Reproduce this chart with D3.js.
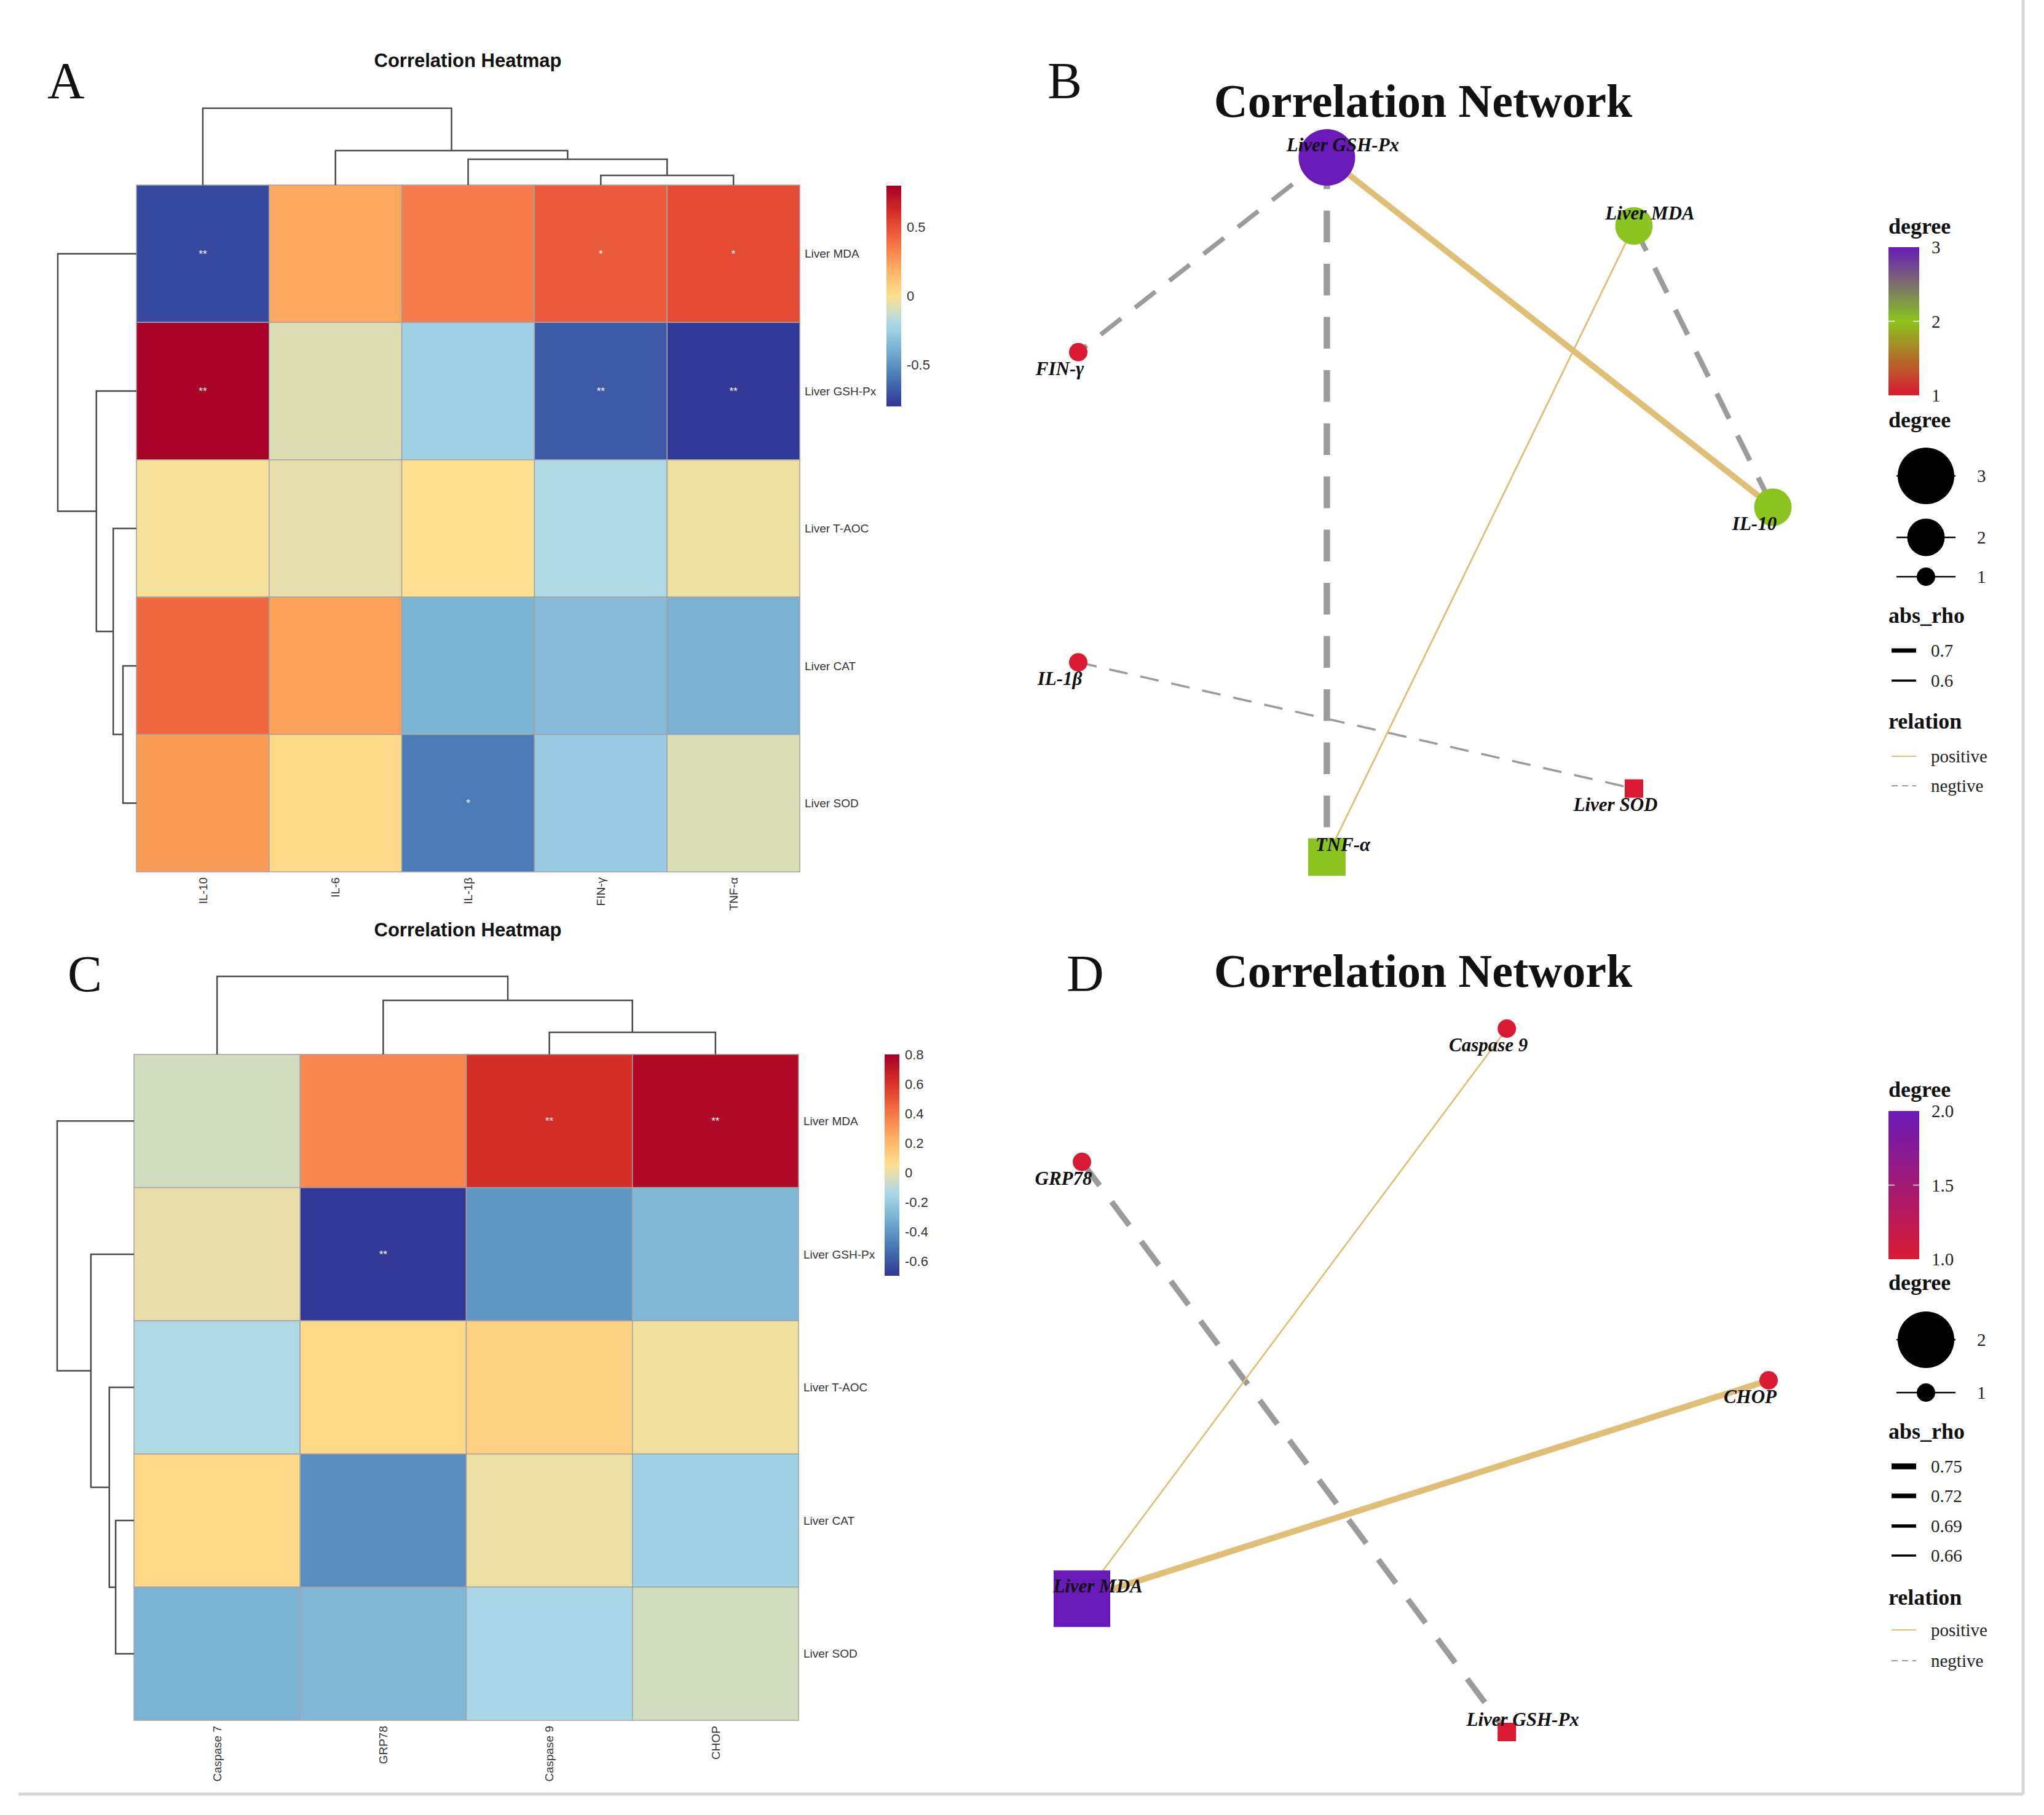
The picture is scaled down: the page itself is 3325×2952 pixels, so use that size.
<!DOCTYPE html>
<html>
<head>
<meta charset="utf-8">
<script src="https://cdn.jsdelivr.net/npm/d3@7/dist/d3.min.js"></script>
<style>
  body { margin: 0; background: #fff; }
</style>
</head>
<body>
<div class="chart"></div>
<script>
// ---------- data: heatmap A ----------
var aRows = ['Liver MDA', 'Liver GSH-Px', 'Liver T-AOC', 'Liver CAT', 'Liver SOD'];
var aCols = ['IL-10', 'IL-6', 'IL-1β', 'FIN-γ', 'TNF-α'];
var aValues = [
  [-0.74, 0.22, 0.35, 0.46, 0.51],
  [0.79, -0.08, -0.24, -0.69, -0.79],
  [-0.02, -0.06, 0.00, -0.19, -0.04],
  [0.42, 0.24, -0.37, -0.34, -0.38],
  [0.26, 0.03, -0.58, -0.27, -0.09]
];
var aStars = [
  ['**', '', '', '*', '*'],
  ['**', '', '', '**', '**'],
  ['', '', '', '', ''],
  ['', '', '', '', ''],
  ['', '', '*', '', '']
];
var aColTree = {h: 2.05, children: ['IL-10', {h: 0.92, children: ['IL-6', {h: 0.69, children: ['IL-1β', {h: 0.26, children: ['FIN-γ', 'TNF-α']}]}]}]};
var aRowTree = {h: 2.10, children: ['Liver MDA', {h: 1.07, children: ['Liver GSH-Px', {h: 0.62, children: ['Liver T-AOC', {h: 0.36, children: ['Liver CAT', 'Liver SOD']}]}]}]};
var aTicks = [-0.5, 0, 0.5];

// ---------- data: heatmap C ----------
var cRows = ['Liver MDA', 'Liver GSH-Px', 'Liver T-AOC', 'Liver CAT', 'Liver SOD'];
var cCols = ['Caspase 7', 'GRP78', 'Caspase 9', 'CHOP'];
var cValues = [
  [-0.05, 0.35, 0.62, 0.76],
  [0.00, -0.69, -0.40, -0.28],
  [-0.13, 0.08, 0.11, 0.02],
  [0.08, -0.43, 0.01, -0.17],
  [-0.30, -0.28, -0.14, -0.05]
];
var cStars = [
  ['', '', '**', '**'],
  ['', '**', '', ''],
  ['', '', '', ''],
  ['', '', '', ''],
  ['', '', '', '']
];
var cColTree = {h: 2.08, children: ['Caspase 7', {h: 1.44, children: ['GRP78', {h: 0.59, children: ['Caspase 9', 'CHOP']}]}]};
var cRowTree = {h: 2.05, children: ['Liver MDA', {h: 1.15, children: ['Liver GSH-Px', {h: 0.66, children: ['Liver T-AOC', {h: 0.49, children: ['Liver CAT', 'Liver SOD']}]}]}]};
var cTicks = [-0.6, -0.4, -0.2, 0, 0.2, 0.4, 0.6, 0.8];

var heatColors = ['#313695', '#4575B4', '#74ADD1', '#ABD9E9', '#FEE090', '#FDAE61', '#F46D43', '#D73027', '#A50026'];

// ---------- data: network B ----------
var bNodes = ['IL-10', 'Liver MDA', 'Liver GSH-Px', 'FIN-γ', 'IL-1β', 'TNF-α', 'Liver SOD'];
var bLayoutX = [1.00, 0.62, -0.22, -0.90, -0.90, -0.22, 0.62];
var bLayoutY = [0.00, 0.78, 0.97, 0.43, -0.43, -0.97, -0.78];
var bShape = ['circle', 'circle', 'circle', 'circle', 'circle', 'square', 'square'];
var bLabelSide = ['sw', 'ne', 'ne', 'sw', 'sw', 'ne', 'sw'];
var bEdges = [
  ['Liver GSH-Px', 'TNF-α', -0.80],
  ['Liver GSH-Px', 'IL-10', 0.78],
  ['Liver MDA', 'IL-10', -0.74],
  ['Liver GSH-Px', 'FIN-γ', -0.71],
  ['IL-1β', 'Liver SOD', -0.60],
  ['Liver MDA', 'TNF-α', 0.58]
];
var bDegreeTicks = [3, 2, 1];
var bRhoBreaks = [0.7, 0.6];

// ---------- data: network D ----------
var dNodes = ['CHOP', 'Caspase 9', 'GRP78', 'Liver MDA', 'Liver GSH-Px'];
var dLayoutX = [1.00, 0.31, -0.81, -0.81, 0.31];
var dLayoutY = [0.00, 0.95, 0.59, -0.59, -0.95];
var dShape = ['circle', 'circle', 'circle', 'square', 'square'];
var dLabelSide = ['sw', 'sw', 'sw', 'ne', 'ne'];
var dEdges = [
  ['Liver MDA', 'CHOP', 0.76],
  ['GRP78', 'Liver GSH-Px', -0.75],
  ['Liver MDA', 'Caspase 9', 0.65]
];
var dDegreeTicks = [2.0, 1.5, 1.0];
var dRhoBreaks = [0.75, 0.72, 0.69, 0.66];

var relations = ['positive', 'negtive'];

// ---------- svg ----------
var W = 3325, H = 2952;
var svg = d3.select('.chart')
  .append('svg')
  .attr('width', W)
  .attr('height', H)
  .style('background', '#fff');

var sans = 'Liberation Sans, Arial, Helvetica, sans-serif';
var serif = 'Liberation Serif, Times New Roman, serif';

// frame lines
svg.append('line').attr('x1', 3291).attr('x2', 3291).attr('y1', 0).attr('y2', 2918)
  .style('stroke', '#d6d6d6').style('stroke-width', 5);
svg.append('line').attr('x1', 30).attr('x2', 3291).attr('y1', 2918).attr('y2', 2918)
  .style('stroke', '#d6d6d6').style('stroke-width', 5);

function panelLetter(t, x, y) {
  svg.append('text').attr('x', x).attr('y', y)
    .style('font-family', serif).style('font-size', '84px').style('fill', '#111')
    .text(t);
}

//-----------------------------------------------------------
function layoutTree(node, pos, acc) {
  if (typeof node === 'string') return {p: pos(node), h: 0};
  var a = layoutTree(node.children[0], pos, acc);
  var b = layoutTree(node.children[1], pos, acc);
  acc.push({a: a, b: b, h: node.h});
  return {p: (a.p + b.p) / 2, h: node.h};
}

function drawHeatmap(o) {
  var g = svg.append('g');
  var x = d3.scaleBand().domain(o.cols).range([o.x0, o.x1]);
  var y = d3.scaleBand().domain(o.rows).range([o.y0, o.y1]);
  var n = heatColors.length;
  var color = d3.scaleLinear()
    .domain(heatColors.map((c, i) => o.lo + i * (o.hi - o.lo) / (n - 1)))
    .range(heatColors)
    .clamp(true);

  var cells = [];
  o.values.forEach((row, i) => row.forEach((v, j) => {
    cells.push({r: o.rows[i], c: o.cols[j], v: v, s: o.stars[i][j]});
  }));

  g.selectAll('.cell')
    .data(cells)
    .enter()
    .append('rect')
    .attr('class', 'cell')
    .attr('x', d => x(d.c))
    .attr('y', d => y(d.r))
    .attr('width', x.bandwidth())
    .attr('height', y.bandwidth())
    .style('fill', d => color(d.v))
    .style('stroke', '#a3a3a3')
    .style('stroke-width', 1.5);

  g.selectAll('.star')
    .data(cells.filter(d => d.s))
    .enter()
    .append('text')
    .attr('class', 'star')
    .attr('x', d => x(d.c) + x.bandwidth() / 2)
    .attr('y', d => y(d.r) + y.bandwidth() / 2 + 6)
    .style('text-anchor', 'middle')
    .style('font-family', sans)
    .style('font-size', '17px')
    .style('fill', '#fff')
    .text(d => d.s);

  // row labels
  g.selectAll('.rlab')
    .data(o.rows)
    .enter()
    .append('text')
    .attr('x', o.x1 + 8)
    .attr('y', d => y(d) + y.bandwidth() / 2)
    .attr('dy', '0.35em')
    .style('font-family', sans)
    .style('font-size', '19px')
    .style('fill', '#333')
    .text(d => d);

  // column labels
  g.selectAll('.clab')
    .data(o.cols)
    .enter()
    .append('text')
    .attr('transform', d => 'translate(' + (x(d) + x.bandwidth() / 2) + ',' + (o.y1 + 9) + ') rotate(-90)')
    .attr('dy', '0.35em')
    .style('text-anchor', 'end')
    .style('font-family', sans)
    .style('font-size', '19px')
    .style('fill', '#333')
    .text(d => d);

  // dendrograms
  var colH = d3.scaleLinear().domain([0, o.colTree.h]).range([o.y0, o.y0 - o.treeH]);
  var colAcc = [];
  layoutTree(o.colTree, d => x(d) + x.bandwidth() / 2, colAcc);
  g.selectAll('.cden')
    .data(colAcc)
    .enter()
    .append('path')
    .attr('d', m => 'M' + m.a.p + ',' + colH(m.a.h) + 'V' + colH(m.h) + 'H' + m.b.p + 'V' + colH(m.b.h))
    .style('fill', 'none')
    .style('stroke', '#4a4a4a')
    .style('stroke-width', 2.5);

  var rowH = d3.scaleLinear().domain([0, o.rowTree.h]).range([o.x0, o.x0 - o.treeW]);
  var rowAcc = [];
  layoutTree(o.rowTree, d => y(d) + y.bandwidth() / 2, rowAcc);
  g.selectAll('.rden')
    .data(rowAcc)
    .enter()
    .append('path')
    .attr('d', m => 'M' + rowH(m.a.h) + ',' + m.a.p + 'H' + rowH(m.h) + 'V' + m.b.p + 'H' + rowH(m.b.h))
    .style('fill', 'none')
    .style('stroke', '#4a4a4a')
    .style('stroke-width', 2.5);

  // colour legend
  var gid = 'grad' + o.id;
  var grad = svg.append('defs').append('linearGradient')
    .attr('id', gid).attr('x1', 0).attr('x2', 0).attr('y1', 1).attr('y2', 0);
  d3.range(0, 1.0001, 0.02).forEach(t => {
    grad.append('stop').attr('offset', t).attr('stop-color', color(o.lo + t * (o.hi - o.lo)));
  });
  g.append('rect')
    .attr('x', o.cb[0]).attr('y', o.cb[1])
    .attr('width', 24).attr('height', o.cb[2])
    .style('fill', 'url(#' + gid + ')');
  var cy = d3.scaleLinear().domain([o.lo, o.hi]).range([o.cb[1] + o.cb[2], o.cb[1]]);
  g.selectAll('.tick')
    .data(o.ticks)
    .enter()
    .append('text')
    .attr('x', o.cb[0] + 33)
    .attr('y', d => cy(d))
    .attr('dy', '0.35em')
    .style('font-family', sans)
    .style('font-size', '22px')
    .style('fill', '#333')
    .text(d => d);

  g.append('text')
    .attr('x', o.titleX).attr('y', o.titleY)
    .style('text-anchor', 'middle')
    .style('font-family', sans)
    .style('font-weight', 'bold')
    .style('font-size', '31px')
    .style('fill', '#111')
    .text('Correlation Heatmap');
}

drawHeatmap({
  id: 'A', rows: aRows, cols: aCols, values: aValues, stars: aStars,
  colTree: aColTree, rowTree: aRowTree, ticks: aTicks,
  x0: 222, x1: 1301, y0: 301, y1: 1418, lo: -0.8, hi: 0.8,
  treeH: 125, treeW: 128, cb: [1442, 302, 359], titleX: 761, titleY: 109
});
drawHeatmap({
  id: 'C', rows: cRows, cols: cCols, values: cValues, stars: cStars,
  colTree: cColTree, rowTree: cRowTree, ticks: cTicks,
  x0: 218, x1: 1299, y0: 1715, y1: 2798, lo: -0.7, hi: 0.8,
  treeH: 127, treeW: 125, cb: [1439, 1715, 360], titleX: 761, titleY: 1523
});

//-----------------------------------------------------------
function drawNetwork(o) {
  var g = svg.append('g');
  var x = d3.scaleLinear().domain(d3.extent(o.lx)).range([o.px[0], o.px[1]]);
  var y = d3.scaleLinear().domain(d3.extent(o.ly)).range([o.py[1], o.py[0]]);

  var nodes = o.names.map((nm, i) => ({name: nm, x: o.lx[i], y: o.ly[i], shape: o.shape[i], side: o.side[i], degree: 0}));
  var byName = {};
  nodes.forEach(d => byName[d.name] = d);
  var edges = o.edges.map(e => ({s: byName[e[0]], t: byName[e[1]], rho: e[2]}));
  edges.forEach(e => { e.s.degree++; e.t.degree++; });

  var size = d3.scaleLinear().domain(d3.extent(nodes, d => d.degree)).range([15, 46]);
  var col = d3.scaleLinear().domain(o.colorDomain).range(o.colorRange);
  var wid = d3.scaleLinear().domain(o.widthDomain).range(o.widthRange);
  var edgeCol = {positive: '#DFBE76', negtive: '#9b9b9b'};
  var dash = w => (20 + 3 * w) + ',' + (14 + 2 * w);

  g.selectAll('.edge')
    .data(edges)
    .enter()
    .append('line')
    .attr('x1', d => x(d.s.x)).attr('y1', d => y(d.s.y))
    .attr('x2', d => x(d.t.x)).attr('y2', d => y(d.t.y))
    .style('stroke', d => d.rho > 0 ? edgeCol.positive : edgeCol.negtive)
    .style('stroke-width', d => wid(Math.abs(d.rho)))
    .style('stroke-dasharray', d => d.rho > 0 ? null : dash(wid(Math.abs(d.rho))));

  g.selectAll('.nodeC')
    .data(nodes.filter(d => d.shape === 'circle'))
    .enter()
    .append('circle')
    .attr('cx', d => x(d.x)).attr('cy', d => y(d.y))
    .attr('r', d => size(d.degree))
    .style('fill', d => col(d.degree));

  g.selectAll('.nodeS')
    .data(nodes.filter(d => d.shape === 'square'))
    .enter()
    .append('rect')
    .attr('x', d => x(d.x) - size(d.degree)).attr('y', d => y(d.y) - size(d.degree))
    .attr('width', d => 2 * size(d.degree)).attr('height', d => 2 * size(d.degree))
    .style('fill', d => col(d.degree));

  g.selectAll('.nlab')
    .data(nodes)
    .enter()
    .append('text')
    .attr('x', d => x(d.x) + (d.side === 'ne' ? 26 : -30))
    .attr('y', d => y(d.y) + (d.side === 'ne' ? -21 : 26))
    .attr('dy', '0.35em')
    .style('text-anchor', 'middle')
    .style('font-family', serif)
    .style('font-style', 'italic')
    .style('font-weight', 'bold')
    .style('font-size', '31px')
    .style('fill', '#111')
    .text(d => d.name);

  g.append('text')
    .attr('x', 2315).attr('y', o.titleY)
    .style('text-anchor', 'middle')
    .style('font-family', serif)
    .style('font-weight', 'bold')
    .style('font-size', '76px')
    .style('fill', '#111')
    .text('Correlation Network');

  // ---- legend ----
  var L = o.legend;
  var lx = 3072;
  function ltitle(t, yy) {
    g.append('text').attr('x', lx).attr('y', yy)
      .style('font-family', serif).style('font-weight', 'bold').style('font-size', '36px')
      .style('fill', '#111').text(t);
  }
  function llabel(t, xx, yy) {
    g.append('text').attr('x', xx).attr('y', yy).attr('dy', '0.35em')
      .style('font-family', serif).style('font-size', '29px')
      .style('fill', '#222').text(t);
  }

  ltitle('degree', L.t1);
  var gid = 'deg' + o.id;
  var grad = svg.append('defs').append('linearGradient')
    .attr('id', gid).attr('x1', 0).attr('x2', 0).attr('y1', 1).attr('y2', 0);
  var dext = d3.extent(nodes, d => d.degree);
  d3.range(0, 1.0001, 0.05).forEach(t => {
    grad.append('stop').attr('offset', t).attr('stop-color', col(dext[0] + t * (dext[1] - dext[0])));
  });
  g.append('rect').attr('x', lx).attr('y', L.cb[0]).attr('width', 50).attr('height', L.cb[1] - L.cb[0])
    .style('fill', 'url(#' + gid + ')');
  var cby = d3.scaleLinear().domain(dext).range([L.cb[1], L.cb[0]]);
  o.degreeTicks.forEach(t => {
    if (t > dext[0] && t < dext[1]) {
      g.append('line').attr('x1', lx).attr('x2', lx + 10).attr('y1', cby(t)).attr('y2', cby(t))
        .style('stroke', '#fff').style('stroke-width', 1.5);
      g.append('line').attr('x1', lx + 40).attr('x2', lx + 50).attr('y1', cby(t)).attr('y2', cby(t))
        .style('stroke', '#fff').style('stroke-width', 1.5);
    }
    llabel(o.degreeLabel(t), lx + 70, cby(t));
  });

  ltitle('degree', L.t2);
  var sizeKeys = d3.range(dext[1], dext[0] - 1, -1);
  sizeKeys.forEach((k, i) => {
    var yy = L.sizeY[i];
    g.append('line').attr('x1', 3085).attr('x2', 3181).attr('y1', yy).attr('y2', yy)
      .style('stroke', '#000').style('stroke-width', 2.5);
    g.append('circle').attr('cx', 3133).attr('cy', yy).attr('r', size(k)).style('fill', '#000');
    llabel(k, 3216, yy);
  });

  ltitle('abs_rho', L.t3);
  o.rhoBreaks.forEach((r, i) => {
    var yy = L.rhoY[i];
    g.append('line').attr('x1', 3077).attr('x2', 3117).attr('y1', yy).attr('y2', yy)
      .style('stroke', '#000').style('stroke-width', wid(r));
    llabel(r, 3141, yy);
  });

  ltitle('relation', L.t4);
  relations.forEach((r, i) => {
    var yy = L.relY[i];
    g.append('line').attr('x1', 3077).attr('x2', 3117).attr('y1', yy).attr('y2', yy)
      .style('stroke', edgeCol[r]).style('stroke-width', 2)
      .style('stroke-dasharray', r === 'negtive' ? '10,7' : null);
    llabel(r, 3141, yy);
  });
}

drawNetwork({
  id: 'B', names: bNodes, lx: bLayoutX, ly: bLayoutY, shape: bShape, side: bLabelSide, edges: bEdges,
  px: [1754, 2884], py: [256, 1394], titleY: 190,
  colorDomain: [1, 2, 3], colorRange: ['#D91A32', '#8BC41E', '#6A1AB8'],
  widthDomain: [0.55, 0.80], widthRange: [1.8, 10.5],
  degreeTicks: bDegreeTicks, degreeLabel: t => t, rhoBreaks: bRhoBreaks,
  legend: {t1: 380, cb: [402, 643], t2: 695, sizeY: [774, 874, 938], t3: 1013, rhoY: [1058, 1107], t4: 1185, relY: [1230, 1278]}
});
drawNetwork({
  id: 'D', names: dNodes, lx: dLayoutX, ly: dLayoutY, shape: dShape, side: dLabelSide, edges: dEdges,
  px: [1760, 2877], py: [1673, 2817], titleY: 1605,
  colorDomain: [1, 2], colorRange: ['#D91A32', '#6A1AB8'],
  widthDomain: [0.64, 0.76], widthRange: [2, 10],
  degreeTicks: dDegreeTicks, degreeLabel: t => t.toFixed(1), rhoBreaks: dRhoBreaks,
  legend: {t1: 1784, cb: [1807, 2048], t2: 2098, sizeY: [2179, 2265], t3: 2340, rhoY: [2385, 2433, 2482, 2530], t4: 2610, relY: [2651, 2701]}
});

panelLetter('A', 77, 160);
panelLetter('B', 1704, 160);
panelLetter('C', 110, 1613);
panelLetter('D', 1735, 1612);
</script>
</body>
</html>
